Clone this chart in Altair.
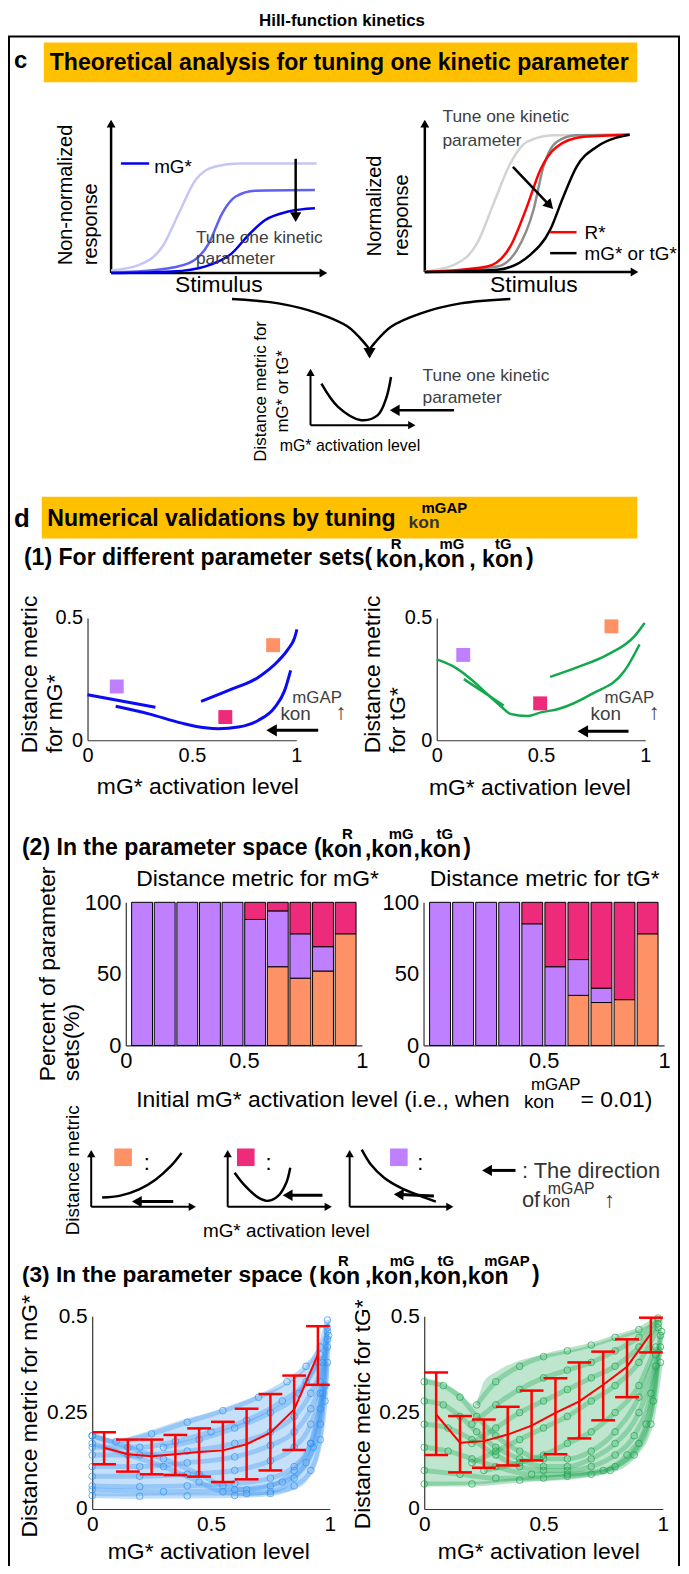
import altair as alt
import pandas as pd

FONT = "Liberation Sans"
W, H, M = 677, 1558, 8

# ============================================================ DATA
# ---- c: schematic stimulus-response curves (axis units 0..1)
NONNORM_LIGHT = [(0, 0.017), (0.129, 0.053), (0.235, 0.17), (0.31, 0.383), (0.386, 0.596),
                 (0.43, 0.655), (0.477, 0.683), (0.583, 0.702), (0.94, 0.702)]
NONNORM_MID = [(0, 0.004), (0.205, 0.02), (0.356, 0.064), (0.447, 0.19), (0.508, 0.383),
               (0.568, 0.489), (0.659, 0.528), (0.932, 0.532)]
NONNORM_DARK = [(0, 0.0), (0.28, 0.01), (0.432, 0.043), (0.553, 0.128), (0.629, 0.245),
                (0.705, 0.34), (0.81, 0.394), (0.932, 0.415)]
NORM_LIGHT = [(0, 0.004), (0.135, 0.047), (0.242, 0.186), (0.318, 0.443), (0.395, 0.7),
              (0.472, 0.839), (0.594, 0.882), (0.946, 0.886)]
NORM_GREY = [(0, 0.0), (0.334, 0.036), (0.426, 0.143), (0.502, 0.4), (0.548, 0.679),
             (0.609, 0.839), (0.701, 0.882), (0.946, 0.886)]
NORM_RED = [(0, 0.0), (0.288, 0.036), (0.395, 0.165), (0.472, 0.422), (0.533, 0.657),
            (0.609, 0.807), (0.732, 0.872), (0.946, 0.886)]
NORM_BLACK = [(0, 0.0), (0.334, 0.015), (0.487, 0.111), (0.579, 0.272), (0.64, 0.486),
              (0.701, 0.679), (0.793, 0.807), (0.885, 0.867), (0.946, 0.886)]
U_SCHEMATIC = [(0.102, 0.715), (0.257, 0.316), (0.474, 0.086), (0.628, 0.172), (0.706, 0.458), (0.752, 0.83)]
CONVERGE_LEFT = [(233.3, 296), (280, 300.5), (320, 310.5), (350, 324), (366.7, 340.5), (371.7, 347)]
CONVERGE_RIGHT = [(513.3, 296), (463.3, 300.5), (423.3, 310.5), (393.3, 324), (376.7, 340.5), (371.7, 347)]

# ---- d(1): distance metric vs mG* activation level
MG_DEC = [(0.0, 0.186), (0.325, 0.135)]
MG_U = [(0.135, 0.139), (0.294, 0.108), (0.452, 0.07), (0.563, 0.051), (0.627, 0.047), (0.722, 0.054),
        (0.817, 0.081), (0.897, 0.135), (0.944, 0.203), (0.973, 0.286)]
MG_INC = [(0.544, 0.159), (0.69, 0.209), (0.817, 0.257), (0.913, 0.324), (0.96, 0.372), (0.992, 0.419), (1.003, 0.453)]
TG_DEC = [(0.13, 0.25), (0.321, 0.142)]
TG_U = [(0, 0.331), (0.075, 0.304), (0.154, 0.257), (0.234, 0.196), (0.313, 0.135), (0.353, 0.108),
        (0.432, 0.099), (0.504, 0.115), (0.583, 0.128), (0.742, 0.189), (0.901, 0.284), (0.973, 0.392)]
TG_INC = [(0.544, 0.259), (0.663, 0.295), (0.822, 0.351), (0.949, 0.426), (0.997, 0.48)]
MG_SQUARES = [("increasing", 0.889, 0.389), ("U-shaped", 0.66, 0.095), ("decreasing", 0.14, 0.22)]
TG_SQUARES = [("increasing", 0.838, 0.466), ("U-shaped", 0.496, 0.151), ("decreasing", 0.127, 0.349)]

# ---- d(2): percent of parameter sets per initial activation bin
BIN_CENTERS = [0.05, 0.15, 0.25, 0.35, 0.45, 0.55, 0.65, 0.75, 0.85, 0.95]
MG_ORANGE = [0, 0, 0, 0, 0, 0, 55, 47, 52, 78]
MG_PURPLE = [100, 100, 100, 100, 100, 88, 39, 31, 17, 0]
MG_MAGENTA = [0, 0, 0, 0, 0, 12, 6, 22, 31, 22]
TG_ORANGE = [0, 0, 0, 0, 0, 0, 35, 30, 32, 78]
TG_PURPLE = [100, 100, 100, 100, 85, 55, 25, 10, 0, 0]
TG_MAGENTA = [0, 0, 0, 0, 15, 45, 40, 60, 68, 22]
SEG_NAMES = ["increasing", "decreasing", "U-shaped"]
SEG_COLORS = ["#FF9166", "#BF7FFF", "#EE2A7B"]

# legend schematics
LEG_INCREASING = [(0.102, 0.157), (0.263, 0.185), (0.448, 0.297), (0.604, 0.465), (0.743, 0.69), (0.845, 0.914)]
LEG_U = [(0.065, 0.578), (0.164, 0.354), (0.288, 0.157), (0.381, 0.101), (0.474, 0.185), (0.551, 0.41), (0.588, 0.663)]
LEG_DECREASING = [(0.114, 0.971), (0.2, 0.718), (0.325, 0.494), (0.479, 0.325), (0.665, 0.185), (0.813, 0.089)]

# ---- d(3): error bars (mean +/- sd) per activation bin
EB_X = [0.05, 0.15, 0.25, 0.35, 0.45, 0.55, 0.65, 0.75, 0.85, 0.95]
MG_MEAN = [0.159, 0.142, 0.137, 0.142, 0.148, 0.152, 0.168, 0.198, 0.258, 0.40]
MG_LO = [0.116, 0.097, 0.090, 0.088, 0.084, 0.070, 0.077, 0.100, 0.153, 0.322]
MG_HI = [0.199, 0.180, 0.180, 0.192, 0.209, 0.226, 0.260, 0.298, 0.346, 0.474]
TG_MEAN = [0.245, 0.172, 0.176, 0.193, 0.216, 0.249, 0.279, 0.322, 0.369, 0.455]
TG_LO = [0.140, 0.095, 0.107, 0.113, 0.126, 0.142, 0.183, 0.230, 0.290, 0.406]
TG_HI = [0.354, 0.241, 0.232, 0.265, 0.307, 0.339, 0.380, 0.408, 0.440, 0.496]

# scatter clouds: envelope (x, upper, lower) and traced curve families
MG_ENVELOPE = [(0, 0.205, 0.034), (0.1, 0.18, 0.033), (0.2, 0.195, 0.034), (0.3, 0.215, 0.035),
               (0.4, 0.235, 0.035), (0.5, 0.25, 0.035), (0.6, 0.27, 0.034), (0.7, 0.295, 0.036),
               (0.8, 0.32, 0.042), (0.85, 0.34, 0.05), (0.9, 0.37, 0.07), (0.95, 0.42, 0.13),
               (0.98, 0.46, 0.25), (1.0, 0.5, 0.49)]
MG_CURVES = [
    [(0, 0.035), (0.2, 0.033), (0.4, 0.034), (0.6, 0.035), (0.75, 0.04), (0.85, 0.06), (0.92, 0.1), (0.96, 0.18), (0.98, 0.28), (0.995, 0.45)],
    [(0, 0.06), (0.2, 0.058), (0.4, 0.06), (0.6, 0.066), (0.75, 0.08), (0.85, 0.11), (0.92, 0.17), (0.96, 0.26), (0.99, 0.42)],
    [(0, 0.085), (0.2, 0.085), (0.4, 0.09), (0.6, 0.1), (0.75, 0.125), (0.85, 0.16), (0.92, 0.22), (0.96, 0.3), (0.99, 0.44)],
    [(0, 0.11), (0.2, 0.11), (0.4, 0.12), (0.6, 0.135), (0.75, 0.165), (0.85, 0.2), (0.92, 0.26), (0.96, 0.33), (0.99, 0.46)],
    [(0, 0.14), (0.2, 0.14), (0.4, 0.15), (0.6, 0.17), (0.75, 0.2), (0.85, 0.24), (0.92, 0.3), (0.97, 0.38), (0.99, 0.47)],
    [(0, 0.19), (0.1, 0.175), (0.25, 0.195), (0.4, 0.225), (0.55, 0.255), (0.7, 0.29), (0.82, 0.33), (0.9, 0.37), (0.96, 0.42), (0.99, 0.49)],
    [(0, 0.19), (0.15, 0.16), (0.3, 0.13), (0.45, 0.09), (0.55, 0.06), (0.65, 0.05), (0.75, 0.06), (0.85, 0.1), (0.92, 0.17), (0.97, 0.3)],
    [(0, 0.17), (0.15, 0.14), (0.3, 0.11), (0.45, 0.07), (0.55, 0.045), (0.65, 0.04), (0.75, 0.045), (0.85, 0.08), (0.93, 0.16), (0.98, 0.32)],
    [(0, 0.16), (0.2, 0.16), (0.35, 0.175), (0.5, 0.2), (0.65, 0.23), (0.8, 0.28), (0.9, 0.33), (0.96, 0.4)],
    [(0, 0.05), (0.3, 0.045), (0.6, 0.05), (0.8, 0.07), (0.9, 0.12), (0.96, 0.22), (0.99, 0.38)],
    [(0.3, 0.16), (0.45, 0.18), (0.6, 0.21), (0.75, 0.25), (0.87, 0.3), (0.95, 0.38)],
]
TG_ENVELOPE = [(0, 0.34, 0.06), (0.08, 0.325, 0.061), (0.15, 0.3, 0.062), (0.21, 0.27, 0.064),
               (0.25, 0.33, 0.065), (0.3, 0.355, 0.068), (0.4, 0.385, 0.074), (0.5, 0.4, 0.08),
               (0.6, 0.41, 0.086), (0.7, 0.425, 0.092), (0.8, 0.445, 0.103), (0.85, 0.455, 0.12),
               (0.9, 0.465, 0.15), (0.95, 0.48, 0.22), (0.98, 0.49, 0.33), (1.0, 0.5, 0.49)]
TG_CURVES = [
    [(0, 0.33), (0.08, 0.32), (0.15, 0.29), (0.22, 0.24), (0.3, 0.19), (0.4, 0.15), (0.5, 0.13), (0.6, 0.13), (0.7, 0.15), (0.8, 0.2), (0.9, 0.29), (0.97, 0.4)],
    [(0, 0.28), (0.08, 0.27), (0.15, 0.24), (0.22, 0.2), (0.3, 0.16), (0.4, 0.13), (0.5, 0.11), (0.6, 0.11), (0.7, 0.13), (0.8, 0.17), (0.9, 0.25), (0.97, 0.37)],
    [(0, 0.22), (0.1, 0.21), (0.2, 0.18), (0.3, 0.14), (0.4, 0.11), (0.5, 0.1), (0.6, 0.1), (0.7, 0.11), (0.8, 0.14), (0.88, 0.19), (0.95, 0.3), (0.99, 0.45)],
    [(0, 0.16), (0.1, 0.15), (0.2, 0.13), (0.3, 0.11), (0.45, 0.09), (0.6, 0.09), (0.75, 0.1), (0.85, 0.14), (0.93, 0.22), (0.99, 0.42)],
    [(0, 0.1), (0.15, 0.09), (0.3, 0.08), (0.5, 0.08), (0.7, 0.09), (0.8, 0.11), (0.9, 0.17), (0.96, 0.28), (0.995, 0.46)],
    [(0, 0.065), (0.2, 0.065), (0.4, 0.075), (0.6, 0.085), (0.78, 0.1), (0.88, 0.14), (0.95, 0.22), (0.99, 0.38)],
    [(0.22, 0.27), (0.3, 0.33), (0.4, 0.37), (0.5, 0.395), (0.6, 0.41), (0.7, 0.425), (0.8, 0.445), (0.9, 0.465), (0.98, 0.495)],
    [(0.2, 0.22), (0.3, 0.27), (0.4, 0.31), (0.5, 0.34), (0.6, 0.36), (0.7, 0.38), (0.8, 0.41), (0.9, 0.445), (0.98, 0.49)],
    [(0.2, 0.17), (0.3, 0.21), (0.4, 0.25), (0.5, 0.28), (0.6, 0.31), (0.7, 0.34), (0.8, 0.37), (0.9, 0.42), (0.98, 0.48)],
    [(0.2, 0.12), (0.3, 0.15), (0.4, 0.18), (0.5, 0.21), (0.6, 0.24), (0.7, 0.28), (0.8, 0.32), (0.9, 0.38), (0.98, 0.47)],
    [(0.25, 0.1), (0.4, 0.12), (0.5, 0.14), (0.6, 0.17), (0.7, 0.2), (0.8, 0.25), (0.9, 0.32), (0.97, 0.42)],
]

# ============================================================ LAYOUT helpers
def sc(dom, a, b):
    return alt.Scale(domain=list(dom), range=[a - M, b - M], nice=False, zero=False)


class Panel:
    def __init__(self, xdom, xa, xb, ydom, ya, yb):
        self.xdom, self.ydom = xdom, ydom
        self.xs, self.ys = sc(xdom, xa, xb), sc(ydom, ya, yb)

    def enc(self, xf="x", yf="y"):
        return dict(x=alt.X(f"{xf}:Q", scale=self.xs, axis=None),
                    y=alt.Y(f"{yf}:Q", scale=self.ys, axis=None))


PAGE = Panel((0, 689), 0, 689, (0, 1574), 0, 1574)
SL = Panel((0, 1), 111.7, 331.7, (0, 1), 270, 113)
SR = Panel((0, 1), 427.3, 645, (0, 1), 269, 113)
SS = Panel((0, 1), 312.3, 420, (0, 1), 423, 364.6)
P1L = Panel((0, 1), 88, 298, (0, 0.5), 740, 617)
P1R = Panel((0, 1), 439.3, 649, (0, 0.5), 740, 617)
BL = Panel((0, 1), 126.5, 364, (0, 100), 1047, 903)
BR = Panel((0, 1), 426, 668, (0, 100), 1047, 903)
LG1 = Panel((0, 1), 91.7, 199.3, (0, 1), 1209.3, 1150)
LG2 = Panel((0, 1), 229, 336, (0, 1), 1209.3, 1150)
LG3 = Panel((0, 1), 351.7, 458.3, (0, 1), 1209.3, 1150)
SCL = Panel((0, 1), 92.7, 331.7, (0, 0.5), 1513.3, 1319.3)
SCR = Panel((0, 1), 426.7, 666.7, (0, 0.5), 1513.3, 1319.3)

layers = []


def add(*c):
    layers.extend(c)


def pts_df(pts):
    return pd.DataFrame({"x": [p[0] for p in pts], "y": [p[1] for p in pts], "i": list(range(len(pts)))})


def line(p, pts, color, sw=2.5, interp="monotone", opacity=1.0):
    return alt.Chart(pts_df(pts)).mark_line(color=color, strokeWidth=sw, interpolate=interp,
                                            opacity=opacity).encode(**p.enc(), order="i:Q")


def seg(p, x1, y1, x2, y2, color="black", sw=2.5):
    df = pd.DataFrame({"x": [x1], "y": [y1], "x2": [x2], "y2": [y2]})
    return alt.Chart(df).mark_rule(color=color, strokeWidth=sw).encode(**p.enc(), x2="x2:Q", y2="y2:Q")


def head(p, x, y, angle, size=80, color="black"):
    df = pd.DataFrame({"x": [x], "y": [y]})
    return alt.Chart(df).mark_point(shape="triangle", filled=True, size=size, angle=angle,
                                    color=color, opacity=1, strokeWidth=0).encode(**p.enc())


def arrow(p, x1, y1, x2, y2, angle, size=80, sw=2.5):
    return [seg(p, x1, y1, x2, y2, sw=sw), head(p, x2, y2, angle, size)]


def axes_arrows(p, ytip, xtip, sw=2.5, size=80):
    return arrow(p, 0, 0, 0, ytip, 0, size, sw) + arrow(p, 0, 0, xtip, 0, 90, size, sw)


def T(items, size, weight="normal", color="black", align="left", angle=0):
    df = pd.DataFrame(items, columns=["t", "x", "y"])
    return alt.Chart(df).mark_text(font=FONT, fontSize=size, fontWeight=weight, color=color,
                                   align=align, angle=angle, baseline="middle").encode(**PAGE.enc(), text="t:N")


def rect(x1, y1, x2, y2, **style):
    df = pd.DataFrame({"x": [x1], "y": [y1], "x2": [x2], "y2": [y2]})
    return alt.Chart(df).mark_rect(**style).encode(**PAGE.enc(), x2="x2:Q", y2="y2:Q")


def axes(p, xvals, yvals, xpage_y, ypage_x, lsize=20):
    df = pd.DataFrame({"x": list(p.xdom), "y": list(p.ydom)})
    common = dict(title=None, grid=False, ticks=False, labelFont=FONT, labelFontSize=lsize,
                  labelColor="black", labelPadding=5, labelFlush=False, labelOverlap=False,
                  domainColor="#333333", domainWidth=1.2, labelExpr="'' + datum.value")
    xa = alt.Axis(orient="bottom", offset=(xpage_y - M) - H, values=xvals, **common)
    ya = alt.Axis(orient="left", offset=-(ypage_x - M), values=yvals, **common)
    return alt.Chart(df).mark_point(opacity=0).encode(
        x=alt.X("x:Q", scale=p.xs, axis=xa), y=alt.Y("y:Q", scale=p.ys, axis=ya))


def squares(p, items, size=196):
    df = pd.DataFrame(items, columns=["k", "x", "y"])
    return alt.Chart(df).mark_square(size=size, opacity=1).encode(
        **p.enc(), color=alt.Color("k:N", scale=alt.Scale(domain=SEG_NAMES, range=SEG_COLORS), legend=None))


# ============================================================ decorations
add(rect(9, 32, 683, 1600, fillOpacity=0, stroke="black", strokeWidth=2))
add(rect(44, 38, 641, 78, color="#FFC000"))
add(rect(42, 495, 641, 537, color="#FFC000"))

# ============================================================ c: schematics
add(*axes_arrows(SL, 0.949, 0.965))
add(line(SL, NONNORM_LIGHT, "#C6C6F6"), line(SL, NONNORM_MID, "#5F5FF2"), line(SL, NONNORM_DARK, "#0000EE"))
add(seg(SL, 0.045, 0.702, 0.174, 0.702, color="#0000EE", sw=2.5))
add(*arrow(SL, 0.844, 0.732, 0.844, 0.369, 180, 130))

add(*axes_arrows(SR, 0.949, 0.963))
add(line(SR, NORM_LIGHT, "#D3D3D3"), line(SR, NORM_GREY, "#8C8C8C"), line(SR, NORM_RED, "#FF0000"),
    line(SR, NORM_BLACK, "#000000"))
add(seg(SR, 0.579, 0.257, 0.701, 0.257, color="#FF0000"), seg(SR, 0.579, 0.122, 0.701, 0.122, color="black"))
add(*arrow(SR, 0.407, 0.678, 0.572, 0.437, 136, 130))

add(line(PAGE, CONVERGE_LEFT, "black", 2.5, "catmull-rom"), line(PAGE, CONVERGE_RIGHT, "black", 2.5, "catmull-rom"))
add(head(PAGE, 371.7, 349, 180, 150))

add(*axes_arrows(SS, 0.887, 0.935, sw=2, size=70))
add(line(SS, U_SCHEMATIC, "black", 2.5, "catmull-rom"))
add(*arrow(SS, 1.341, 0.257, 0.802, 0.257, 270, 130))

# ============================================================ d(1)
add(axes(P1L, [0, 0.5, 1], [0, 0.5], 740, 88), axes(P1R, [0, 0.5, 1], [0, 0.5], 740, 439.3))
BLUE, GREEN = "#0A0AF5", "#12A84B"
add(line(P1L, MG_DEC, BLUE, 3), line(P1L, MG_U, BLUE, 3), line(P1L, MG_INC, BLUE, 3))
add(line(P1R, TG_DEC, GREEN, 2.5), line(P1R, TG_U, GREEN, 2.5), line(P1R, TG_INC, GREEN, 2.5))
add(squares(P1L, MG_SQUARES), squares(P1R, TG_SQUARES))
add(*arrow(P1L, 1.105, 0.0407, 0.89, 0.0407, 270, 150, 3))
add(*arrow(P1R, 0.92, 0.0366, 0.709, 0.0366, 270, 150, 3))


# ============================================================ d(2) bars
def bars(p, orange, purple, magenta):
    rows = []
    for i, c in enumerate(BIN_CENTERS):
        for k, (name, vals) in enumerate([("increasing", orange), ("decreasing", purple), ("U-shaped", magenta)]):
            if vals[i] > 0:
                rows.append({"c": c, "v": vals[i], "seg": name, "k": k})
    df = pd.DataFrame(rows)
    return alt.Chart(df).mark_bar(size=21, stroke="black", strokeWidth=1, orient="vertical").encode(
        x=alt.X("c:Q", scale=p.xs, axis=None),
        y=alt.Y("v:Q", scale=p.ys, axis=None, stack="zero"),
        color=alt.Color("seg:N", scale=alt.Scale(domain=SEG_NAMES, range=SEG_COLORS), legend=None),
        order=alt.Order("k:Q"))


add(bars(BL, MG_ORANGE, MG_PURPLE, MG_MAGENTA), bars(BR, TG_ORANGE, TG_PURPLE, TG_MAGENTA))
add(axes(BL, [0, 0.5, 1], [0, 50, 100], 1047, 126.5, 22), axes(BR, [0, 0.5, 1], [0, 50, 100], 1047, 426, 22))

# legend schematics
for P, curve in [(LG1, LEG_INCREASING), (LG2, LEG_U), (LG3, LEG_DECREASING)]:
    add(*axes_arrows(P, 0.882, 0.934, sw=2, size=70))
    add(line(P, curve, "black", 2.5, "catmull-rom"))
add(*arrow(LG1, 0.767, 0.089, 0.442, 0.089, 270, 130, 3))
add(*arrow(LG2, 0.891, 0.196, 0.579, 0.196, 270, 130, 3))
add(*arrow(LG3, 0.795, 0.185, 0.478, 0.208, 273, 130, 3))
add(squares(LG1, [("increasing", 0.298, 0.84)], 313), squares(LG2, [("U-shaped", 0.17, 0.84)], 313),
    squares(LG3, [("decreasing", 0.464, 0.84)], 313))
add(*arrow(PAGE, 518.5, 1172.7, 491.5, 1172.7, 270, 130, 3))


# ============================================================ d(3) scatter
def cloud(p, env, curves, color):
    edf = pd.DataFrame(env, columns=["x", "hi", "lo"])
    out = [alt.Chart(edf).mark_area(color=color, opacity=0.28, interpolate="monotone").encode(
        x=alt.X("x:Q", scale=p.xs, axis=None), y=alt.Y("hi:Q", scale=p.ys, axis=None), y2="lo:Q")]
    rows = []
    for cid, cv in enumerate(curves):
        for i, (x, y) in enumerate(cv):
            rows.append({"cid": cid, "i": i, "x": x, "y": y})
    cdf = pd.DataFrame(rows)
    out.append(alt.Chart(cdf).mark_line(color=color, strokeWidth=5, opacity=0.3, interpolate="monotone").encode(
        **p.enc(), detail="cid:N", order="i:Q"))
    out.append(alt.Chart(cdf).mark_point(shape="circle", filled=False, size=45, color=color, strokeWidth=1,
                                         opacity=0.7).encode(**p.enc()))
    return out


def errbars(p, mean, lo, hi):
    df = pd.DataFrame({"x": EB_X, "mean": mean, "lo": lo, "hi": hi})
    caps = pd.DataFrame({"x": EB_X + EB_X, "y": lo + hi})
    return [
        alt.Chart(df).mark_line(color="#FF0000", strokeWidth=2).encode(
            x=alt.X("x:Q", scale=p.xs, axis=None), y=alt.Y("mean:Q", scale=p.ys, axis=None)),
        alt.Chart(df).mark_rule(color="#FF0000", strokeWidth=2.5).encode(
            x=alt.X("x:Q", scale=p.xs, axis=None), y=alt.Y("lo:Q", scale=p.ys, axis=None), y2="hi:Q"),
        alt.Chart(caps).transform_calculate(xa="datum.x - 0.05", xb="datum.x + 0.05").mark_rule(
            color="#FF0000", strokeWidth=2.5).encode(
            x=alt.X("xa:Q", scale=p.xs, axis=None), x2="xb:Q", y=alt.Y("y:Q", scale=p.ys, axis=None)),
    ]


add(*cloud(SCL, MG_ENVELOPE, MG_CURVES, "#2F8FEF"))
add(*cloud(SCR, TG_ENVELOPE, TG_CURVES, "#17A24C"))
add(*errbars(SCL, MG_MEAN, MG_LO, MG_HI), *errbars(SCR, TG_MEAN, TG_LO, TG_HI))
add(axes(SCL, [0, 0.5, 1], [0, 0.25, 0.5], 1513.3, 92.7, 21), axes(SCR, [0, 0.5, 1], [0, 0.25, 0.5], 1513.3, 426.7, 21))

# ============================================================ texts
GREY = "#404040"
HDR = 23.2
add(T([("Hill-function kinetics", 344, 16)], 17, "bold", align="center"))
add(T([("c", 14, 57)], 24, "bold"), T([("d", 14, 517)], 26, "bold"))
add(T([("Theoretical analysis for tuning one kinetic parameter", 50, 59),
       ("Numerical validations by tuning", 47.5, 517)], HDR, "bold"))
add(T([("kon", 411, 521)], 17.5, "bold", color="#333333"), T([("mGAP", 424, 506)], 15, "bold"))

# c texts
add(T([("mG*", 155, 163), ("R*", 588, 230), ("mG* or tG*", 588, 251)], 19))
add(T([("Tune one kinetic", 197, 235), ("parameter", 197, 256), ("Tune one kinetic", 445, 113),
       ("parameter", 445, 137), ("Tune one kinetic", 425, 374), ("parameter", 425, 396)], 17.5, color=GREY))
add(T([("Stimulus", 220, 282), ("Stimulus", 537, 282)], 23, align="center"))
add(T([("Non-normalized", 66, 262), ("response", 92, 262), ("Normalized", 377, 253), ("response", 404, 253)],
      20, angle=270))
add(T([("Distance metric for", 263, 389), ("mG* or tG*", 285, 389)], 17, angle=270, align="center"))
add(T([("mG* activation level", 352, 444)], 16, align="center"))

# (1)
add(T([("(1) For different parameter sets(", 24, 557), ("kon", 378, 559), (",kon", 420, 559),
       (", kon", 472, 559), (")", 529, 557)], HDR, "bold"))
add(T([("R", 393, 543), ("mG", 442, 543), ("tG", 498, 543)], 15, "bold"))
add(T([("Distance metric", 30, 753), ("for mG*", 55, 753), ("Distance metric", 375, 753), ("for tG*", 400, 753)],
      23, angle=270))
add(T([("mG* activation level", 199, 787), ("mG* activation level", 533, 788)], 23, align="center"))
add(T([("kon", 282, 714), ("kon", 594, 714)], 19, color=GREY))
add(T([("mGAP", 294, 698), ("mGAP", 608, 698)], 17, color=GREY))
add(T([("↑", 343, 712), ("↑", 658, 712)], 22, color=GREY, align="center"))

# (2)
add(T([("(2) In the parameter space (", 22, 848), ("kon", 323, 850), (",kon", 367, 850), (",kon", 416, 850),
       (")", 466, 848)], HDR, "bold"))
add(T([("R", 344, 834), ("mG", 391, 834), ("tG", 439, 834)], 15, "bold"))
add(T([("Distance metric for mG*", 259, 880), ("Distance metric for tG*", 548, 880)], 23, align="center"))
add(T([("Percent of parameter", 48, 1083), ("sets(%)", 72, 1083)], 23, angle=270))
add(T([("Initial mG* activation level (i.e., when", 137, 1102), ("=  0.01)", 584, 1102)], 23))
add(T([("kon", 527, 1104)], 19), T([("mGAP", 534, 1087)], 17))
add(T([("Distance metric", 73, 1238)], 19, angle=270))
add(T([(":", 147.7, 1165), (":", 270, 1165), (":", 422.7, 1165)], 22, align="center"))
add(T([("mG* activation level", 288, 1234)], 19, align="center"))
add(T([(": The direction", 525, 1173), ("of", 525, 1202)], 22, color="#333333"))
add(T([("kon", 546, 1204)], 17, color="#333333"))
add(T([("mGAP", 551, 1191)], 16, color="#333333"), T([("↑", 613, 1202)], 22, color="#333333", align="center"))

# (3)
add(T([("(3) In the parameter space (", 22, 1278)], 22.8, "bold"))
add(T([("kon", 321, 1280), (",kon", 367, 1280), (",kon", 416, 1280), (",kon", 464, 1280), (")", 535, 1278)],
      HDR, "bold"))
add(T([("R", 340, 1264), ("mG", 392, 1264), ("tG", 440, 1264), ("mGAP", 487, 1264)], 15, "bold"))
add(T([("Distance metric for mG*", 30, 1420), ("Distance metric for tG*", 365, 1418)], 23, angle=270, align="center"))
add(T([("mG* activation level", 210, 1557), ("mG* activation level", 542, 1557)], 23, align="center"))

chart = alt.layer(*layers).resolve_scale(x="independent", y="independent").properties(
    width=W, height=H, autosize=alt.AutoSizeParams(type="none"), padding=0
).configure_view(stroke=None)

chart.save("out.html", embed_options={"renderer": "svg", "actions": False})
